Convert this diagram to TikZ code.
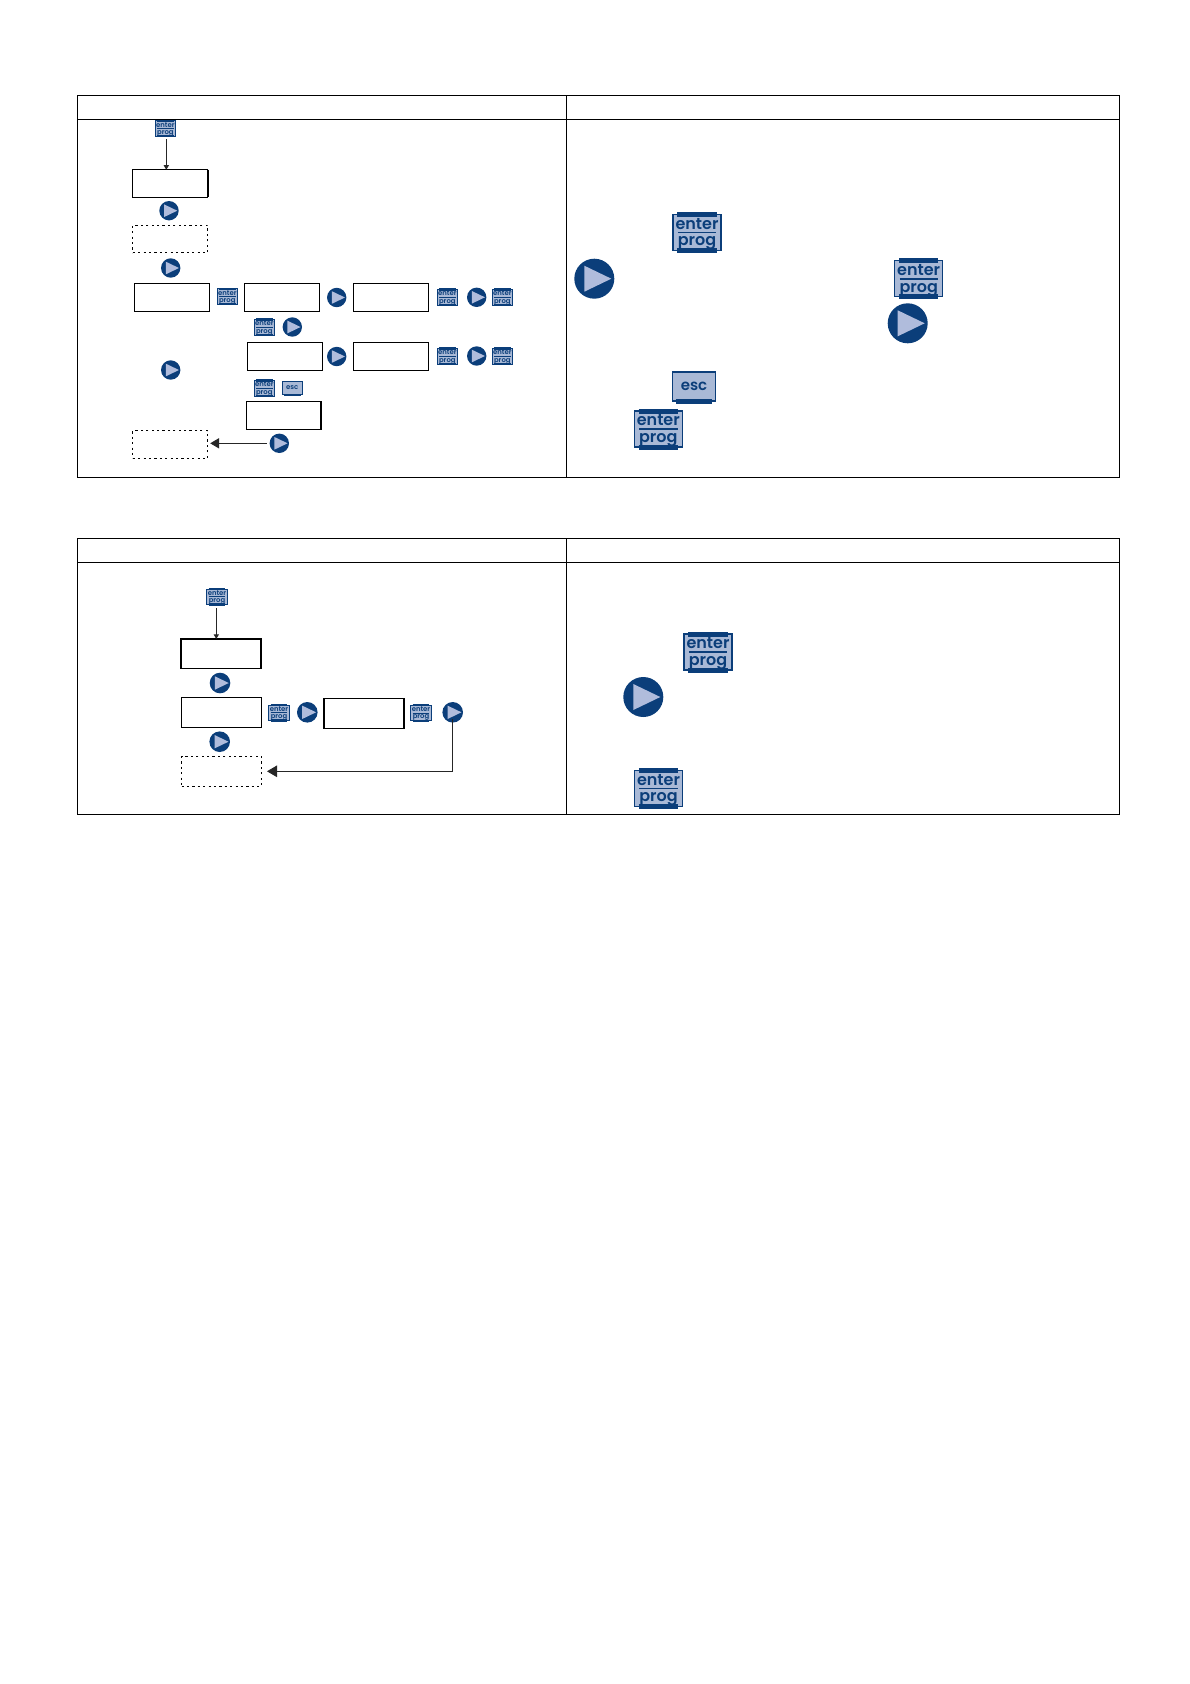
\documentclass[tikz,border=0pt]{standalone}
\usepackage{xcolor}
\usepackage{fontspec}
\usepackage{tikz}
\usetikzlibrary{arrows.meta,positioning,calc}
\newfontfamily\keyfont{Poppins}[BoldFont={Poppins SemiBold}]
\definecolor{keyblue}{HTML}{0B3E7A}
\definecolor{keyfill}{HTML}{A9B9D6}
\definecolor{keytri}{HTML}{B0BCDC}

\begin{document}
\begin{tikzpicture}[
    x=1pt,y=-1pt,
    flow/.style={-{Triangle[length=#1,width=#1*1.15]},line width=0.9pt,draw=black!85},
    flow/.default=5pt,
    display/.style={draw=black,line width=1pt,fill=white,inner sep=0pt,outer sep=0pt,
      minimum width=75pt,minimum height=27.6pt},
    widedisplay/.style={display,minimum width=80pt,minimum height=29.6pt},
    heavy/.style={line width=1.6pt},
    edgeright/.style={append after command={(\tikzlastnode.north east) edge[draw=black,line width=2.6pt] (\tikzlastnode.south east)}},
    dotted box/.style={draw=black,line width=1.2pt,dash pattern=on 2.2pt off 3.2pt,inner sep=0pt,outer sep=0pt,
      minimum width=75pt,minimum height=27.6pt},
    widedotted/.style={dotted box,minimum width=80pt,minimum height=29.6pt},
    enterkey/.style={scale=#1,rectangle,draw=keyblue,fill=keyfill,text=keyblue,line width={0.3pt+#1*1pt},
      inner sep=0pt,outer sep=0pt,text width=48pt,minimum height=36pt,align=center,
      font=\keyfont\bfseries\fontsize{16}{16.5}\selectfont,
      execute at begin node={\rule{0pt}{14.5pt}},
      execute at end node={\endgraf\vskip-4pt},
      path picture={\draw[keyblue,line width={0.2pt+#1*1.4pt}]
        ($(path picture bounding box.west)!.1!(path picture bounding box.east)$) --
        ($(path picture bounding box.west)!.9!(path picture bounding box.east)$);},
      append after command={
        ($(\tikzlastnode.north west)!.09!(\tikzlastnode.north east)$) edge[draw=keyblue,line width={#1*5pt}] ($(\tikzlastnode.north west)!.91!(\tikzlastnode.north east)$)
        ($(\tikzlastnode.south west)!.09!(\tikzlastnode.south east)$) edge[draw=keyblue,line width={#1*5pt}] ($(\tikzlastnode.south west)!.91!(\tikzlastnode.south east)$)}},
    esckey/.style={scale=#1,rectangle,draw=keyblue,fill=keyfill,text=keyblue,line width={0.3pt+#1*1pt},
      inner sep=0pt,outer sep=0pt,minimum width=43pt,minimum height=29pt,
      font=\keyfont\bfseries\fontsize{15}{15}\selectfont,
      append after command={
        ($(\tikzlastnode.south west)!.08!(\tikzlastnode.south east)$) edge[draw=keyblue,line width={#1*5pt}] ($(\tikzlastnode.south west)!.92!(\tikzlastnode.south east)$)}},
    nextkey/.style={circle,fill=keyblue,inner sep=0pt,outer sep=0pt,minimum size=#1*2pt,
      path picture={\fill[keytri]
        ($(path picture bounding box.center)+(-#1*0.5,-#1*0.65)$) --
        ($(path picture bounding box.center)+(#1*0.85,0)$) --
        ($(path picture bounding box.center)+(-#1*0.5,#1*0.65)$) -- cycle;}}
  ]
    \useasboundingbox (0,0) rectangle (1190,1684);
    % upper table
    \draw[line width=1pt] (77.3,95.3) rectangle (566.7,119.3);
    \draw[line width=1pt] (566.7,95.3) rectangle (1119.5,119.3);
    \draw[line width=1pt] (77.3,119.3) rectangle (566.7,477.3);
    \draw[line width=1pt] (566.7,119.3) rectangle (1119.5,477.3);
    % upper flow
    \node[enterkey=.43] (enterstart) at (165.4,128.4) {enter\\prog};
    \node[display,edgeright] (dispone) at (170.3,183.5) {};
    \node[nextkey=9.7] (nextone) at (169,210.7) {};
    \node[dotted box] (dashone) at (170.3,239) {};
    \node[nextkey=9.7] (nexttwo) at (170.7,268) {};
    \node[display] (disptwo) at (172,297.5) {};
    \node[enterkey=.43] (entertwo) at (227.3,296.5) {enter\\prog};
    \node[display,right=35.3pt of disptwo] (dispthree) {};
    \node[nextkey=9.7,right=7.2pt of dispthree] (nextthree) {};
    \node[display,right=34pt of dispthree] (dispfour) {};
    \node[enterkey=.43] (enterfour) at (447.3,297.3) {enter\\prog};
    \node[nextkey=9.7] (nextfour) at (476.7,297.3) {};
    \node[enterkey=.43] (enterfive) at (502.3,297.3) {enter\\prog};
    \node[enterkey=.43] (entersix) at (264.3,327.3) {enter\\prog};
    \node[nextkey=9.7] (nextsix) at (292.3,327) {};
    \node[display] (dispfive) at (285,356.5) {};
    \node[nextkey=9.7,right=4.5pt of dispfive] (nextseven) {};
    \node[display,right=31.3pt of dispfive] (dispsix) {};
    \node[enterkey=.43] (enterseven) at (447.3,356.3) {enter\\prog};
    \node[nextkey=9.7] (nexteight) at (476.7,356) {};
    \node[enterkey=.43] (entereight) at (502.3,356.3) {enter\\prog};
    \node[nextkey=9.7] (nextleft) at (170.7,370) {};
    \node[enterkey=.43] (enternine) at (264.3,388.3) {enter\\prog};
    \node[esckey=.46] (escone) at (292.3,388) {esc};
    \node[display,edgeright] (dispseven) at (283.5,415.5) {};
    \node[dotted box] (dashtwo) at (170.3,444.5) {};
    \node[nextkey=9.7] (nextback) at (279.3,443.3) {};
    \draw[flow=4.5pt] ([yshift=-3pt]enterstart.south -| dispone.north) ++(-4,0) coordinate (startdrop) -- (startdrop |- dispone.north);
    \draw[flow=9pt] (nextback) ++(-12.6,0) coordinate (backfoot) -- ([xshift=2.4pt]dashtwo.east |- backfoot);
    % upper notes
    \node[enterkey=1] (enterbigone) at (697,232.3) {enter\\prog};
    \node[nextkey=20] (nextbigone) at (594.3,278.7) {};
    \node[enterkey=1] (enterbigtwo) at (918.7,278.7) {enter\\prog};
    \node[nextkey=20] (nextbigtwo) at (907.7,323.3) {};
    \node[esckey=1] (escbig) at (694,386.5) {esc};
    \node[enterkey=1] (enterbigthree) at (658.3,429) {enter\\prog};
    % lower table
    \draw[line width=1pt] (77.3,538.7) rectangle (566.7,562.3);
    \draw[line width=1pt] (566.7,538.7) rectangle (1119.5,562.3);
    \draw[line width=1pt] (77.3,562.3) rectangle (566.7,814.3);
    \draw[line width=1pt] (566.7,562.3) rectangle (1119.5,814.3);
    % lower flow
    \node[enterkey=.43] (enterlow) at (217,596.7) {enter\\prog};
    \node[widedisplay,heavy] (disptop) at (221.2,653.7) {};
    \node[nextkey=10.3] (nextlowone) at (220,683) {};
    \node[widedisplay] (dispmid) at (221.5,712.5) {};
    \node[enterkey=.43] (enterlowtwo) at (279,712.7) {enter\\prog};
    \node[nextkey=10.3] (nextlowtwo) at (307.3,712.3) {};
    \node[widedisplay,line width=1.3pt] (dispend) at (364,713.5) {};
    \node[enterkey=.43] (enterlowthree) at (421,713) {enter\\prog};
    \node[nextkey=10.3] (nextlowthree) at (452.7,712.3) {};
    \node[nextkey=10.3] (nextlowfour) at (219.7,741.7) {};
    \node[widedotted] (dashlow) at (221.5,771.3) {};
    \draw[flow=4.5pt] (216.3,608.3) coordinate (lowdrop) -- (lowdrop |- disptop.north);
    \draw[flow=10pt] ([yshift=3.5pt]nextlowthree.south) |- ([xshift=5.5pt]dashlow.east);
    % lower notes
    \node[enterkey=1] (enterbigfour) at (708,652) {enter\\prog};
    \node[nextkey=20] (nextbigthree) at (643.3,697) {};
    \node[enterkey=1] (enterbigfive) at (658.5,788.5) {enter\\prog};
\end{tikzpicture}
\end{document}
